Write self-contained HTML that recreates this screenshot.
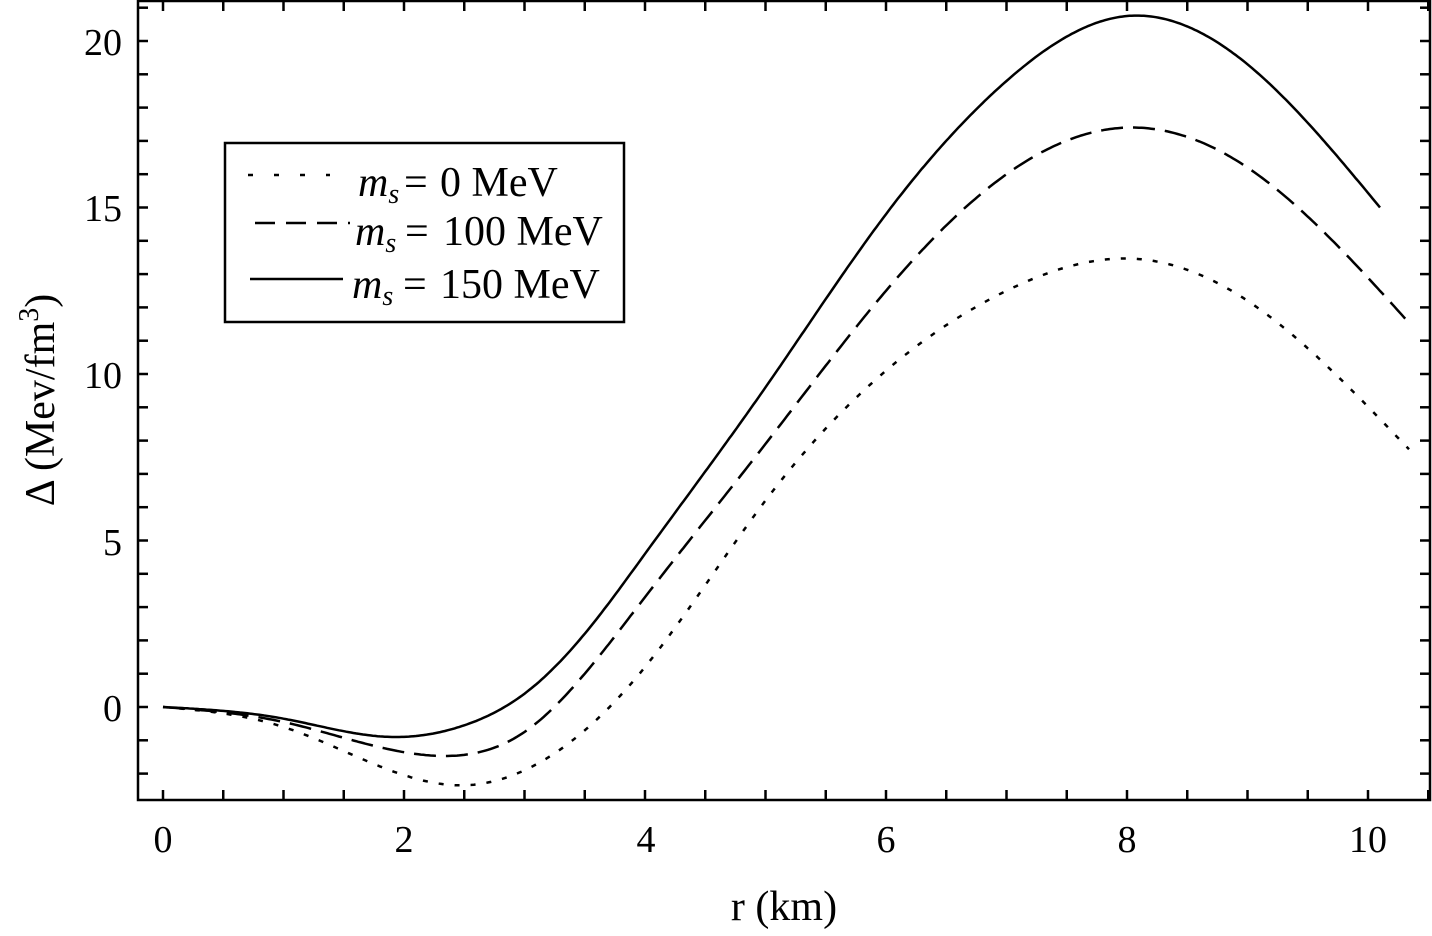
<!DOCTYPE html>
<html><head><meta charset="utf-8"><style>
html,body{margin:0;padding:0;background:#fff;}
svg text{font-family:"Liberation Serif",serif;fill:#000;}
</style></head><body>
<svg id="s" width="1432" height="931" xmlns="http://www.w3.org/2000/svg">
<rect x="138" y="1" width="1292" height="799" fill="none" stroke="#000" stroke-width="2.5"/>
<g id="ticks" stroke="#000" stroke-width="2.5"></g>
<g font-size="38" text-anchor="middle">
<text x="163" y="852">0</text><text x="404" y="852">2</text><text x="646" y="852">4</text>
<text x="886" y="852">6</text><text x="1127" y="852">8</text><text x="1368" y="852">10</text>
</g>
<g font-size="38" text-anchor="end">
<text x="122" y="721">0</text><text x="122" y="555">5</text><text x="122" y="388">10</text>
<text x="122" y="221">15</text><text x="122" y="55">20</text>
</g>
<text x="784" y="920" font-size="42" text-anchor="middle">r (km)</text>
<text transform="translate(54,400) rotate(-90)" font-size="42" text-anchor="middle">Δ (Mev/fm<tspan font-size="28" dy="-16">3</tspan><tspan dy="16">)</tspan></text>
<g id="curves" fill="none" stroke="#000" stroke-width="2.5"></g>
<rect x="225" y="143" width="399" height="179" fill="#fff" stroke="#000" stroke-width="2.5"/>
<line x1="248" y1="175" x2="330" y2="175" stroke="#000" stroke-width="2.5" stroke-dasharray="5,21"/>
<line x1="255" y1="223" x2="350" y2="223" stroke="#000" stroke-width="2.5" stroke-dasharray="20,11"/>
<line x1="250" y1="279" x2="343" y2="279" stroke="#000" stroke-width="2.5"/>
<g font-size="42">
<text x="358" y="196" fill="#200"><tspan font-style="italic">m</tspan><tspan font-style="italic" font-size="28" dy="7">s</tspan></text>
<text x="404" y="196" fill="#200">=</text><text x="440" y="196" fill="#200">0 MeV</text>
<text x="355" y="245" fill="#200"><tspan font-style="italic">m</tspan><tspan font-style="italic" font-size="28" dy="7">s</tspan></text>
<text x="405" y="245" fill="#200">=</text><text x="443" y="245" fill="#200">100 MeV</text>
<text x="352" y="298" fill="#200"><tspan font-style="italic">m</tspan><tspan font-style="italic" font-size="28" dy="7">s</tspan></text>
<text x="403" y="298" fill="#200">=</text><text x="440" y="298" fill="#200">150 MeV</text>
</g>
</svg>
<script>
var X=r=>163+r*120.5, Y=v=>707-v*33.3;
var t=document.getElementById('ticks'),h='';
for(var i=0;i<=21;i++){var x=X(i*0.5),L=10;h+=`<line x1="${x}" y1="800" x2="${x}" y2="${800-L}"/><line x1="${x}" y1="1" x2="${x}" y2="${1+L}"/>`;}
for(var v=-2;v<=23;v++){var y=Y(v);if(y<2||y>799)continue;var L=10;h+=`<line x1="138" y1="${y}" x2="${138+L}" y2="${y}"/><line x1="1430" y1="${y}" x2="${1430-L}" y2="${y}"/>`;}
t.innerHTML=h;
function spline(p){
 var n=p.length,x=p.map(q=>q[0]),y=p.map(q=>q[1]),hh=[],al=[],l=[1],mu=[0],z=[0],c=new Array(n).fill(0),b=[],d=[];
 for(var i=0;i<n-1;i++)hh[i]=x[i+1]-x[i];
 for(var i=1;i<n-1;i++)al[i]=3/hh[i]*(y[i+1]-y[i])-3/hh[i-1]*(y[i]-y[i-1]);
 for(var i=1;i<n-1;i++){l[i]=2*(x[i+1]-x[i-1])-hh[i-1]*mu[i-1];mu[i]=hh[i]/l[i];z[i]=(al[i]-hh[i-1]*z[i-1])/l[i];}
 for(var j=n-2;j>=0;j--){c[j]=(j>0?z[j]:0)-mu[j]*c[j+1];b[j]=(y[j+1]-y[j])/hh[j]-hh[j]*(c[j+1]+2*c[j])/3;d[j]=(c[j+1]-c[j])/(3*hh[j]);}
 var s='';
 for(var r=x[0];r<=x[n-1]+1e-9;r+=0.02){var k=0;while(k<n-2&&r>x[k+1])k++;var dx=r-x[k];var v=y[k]+b[k]*dx+c[k]*dx*dx+d[k]*dx*dx*dx;
  s+=(s?'L':'M')+X(r).toFixed(1)+','+Y(v).toFixed(1);}
 return s;}
var solid=[[0,0],[1,-0.35],[1.9,-0.9],[2.5,-0.55],[3,0.4],[3.5,2.2],[4,4.6],[5,9.6],[6,14.8],[7,18.8],[8,20.75],[9,19.3],[10.1,15]];
var dashed=[[0,0],[1,-0.45],[2.2,-1.45],[3,-0.75],[3.5,1.0],[4,3.3],[5,7.9],[6,12.5],[7,16],[8,17.4],[9,16.2],[10.35,11.5]];
var dotted=[[0,0],[1,-0.6],[2.5,-2.35],[3,-1.9],[3.5,-0.7],[4,1.2],[5,6.2],[6,10.1],[7,12.5],[8.1,13.45],[9,12.2],[10.35,7.7]];
document.getElementById('curves').innerHTML=
`<path d="${spline(solid)}"/><path d="${spline(dashed)}" stroke-dasharray="22,10"/><path d="${spline(dotted)}" stroke-dasharray="5,11"/>`;
</script>
</body></html>
